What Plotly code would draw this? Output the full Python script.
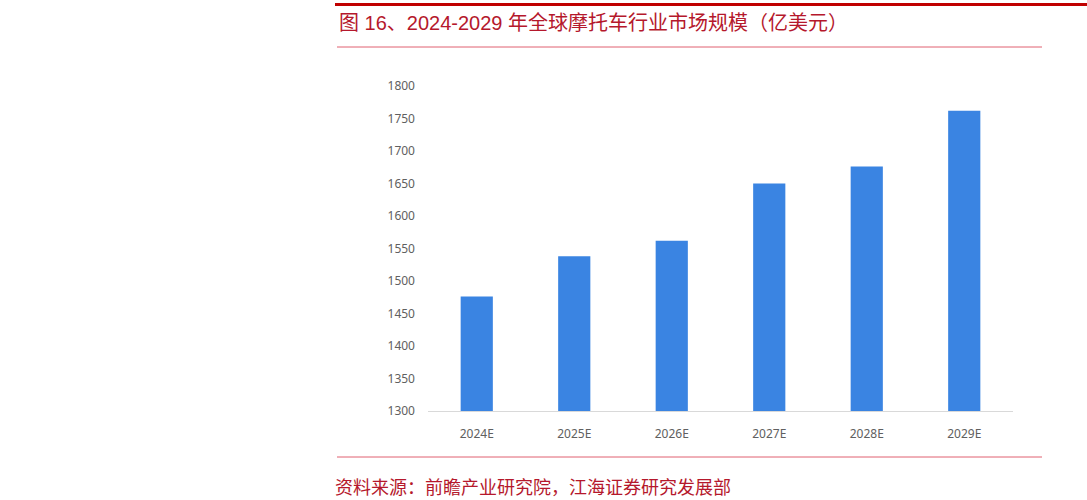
import plotly.graph_objects as go

categories = ["2024E", "2025E", "2026E", "2027E", "2028E", "2029E"]
market_size = [1476, 1538, 1562, 1650, 1676, 1762]
y_ticks = [1300, 1350, 1400, 1450, 1500, 1550, 1600, 1650, 1700, 1750, 1800]

title_text = "图 16、2024-2029 年全球摩托车行业市场规模（亿美元）"
source_text = "资料来源：前瞻产业研究院，江海证券研究发展部"

W, H = 1087, 500
L, R, T, B = 428, 1013, 86, 411

def px(x):
    return (x - L) / (R - L)

def py(y):
    return (B - y) / (B - T)

fig = go.Figure(go.Bar(
    x=categories, y=market_size,
    marker=dict(color="#3a84e2", line=dict(width=0)),
    width=0.33,
))

red = "#b5182c"
fig.update_layout(
    width=W, height=H,
    margin=dict(l=L, r=W - R, t=T, b=H - B),
    paper_bgcolor="white", plot_bgcolor="white",
    showlegend=False,
    font=dict(family="Noto Sans, Noto Sans CJK SC", color="#606060", size=12),
    xaxis=dict(showline=True, linecolor="#d9d9d9", linewidth=1,
               showgrid=False, ticks="", ticklabelstandoff=12,
               tickfont=dict(size=12, color="#606060")),
    yaxis=dict(range=[1300, 1800], tickvals=y_ticks, showgrid=False,
               zeroline=False, showline=False, ticks="", ticklabelstandoff=12,
               tickfont=dict(size=12, color="#606060")),
    shapes=[
        dict(type="line", xref="paper", yref="paper", x0=px(335), x1=px(1090),
             y0=py(4.5), y1=py(4.5), line=dict(color="#c00000", width=3)),
        dict(type="line", xref="paper", yref="paper", x0=px(337), x1=px(1042),
             y0=py(47), y1=py(47), line=dict(color="#e06070", width=1)),
        dict(type="line", xref="paper", yref="paper", x0=px(337), x1=px(1042),
             y0=py(457), y1=py(457), line=dict(color="#e06070", width=1)),
    ],
    annotations=[
        dict(text=title_text, xref="paper", yref="paper", x=px(337), y=py(23),
             xanchor="left", yanchor="middle", showarrow=False,
             font=dict(family="Liberation Sans, Noto Sans CJK SC", size=20, color=red)),
        dict(text=source_text, xref="paper", yref="paper", x=px(333), y=py(486),
             xanchor="left", yanchor="middle", showarrow=False,
             font=dict(family="Noto Sans CJK SC", size=18, color=red)),
    ],
)

fig.write_html("out.html", config={"displayModeBar": False},
               post_script="document.body.style.margin='0';")
